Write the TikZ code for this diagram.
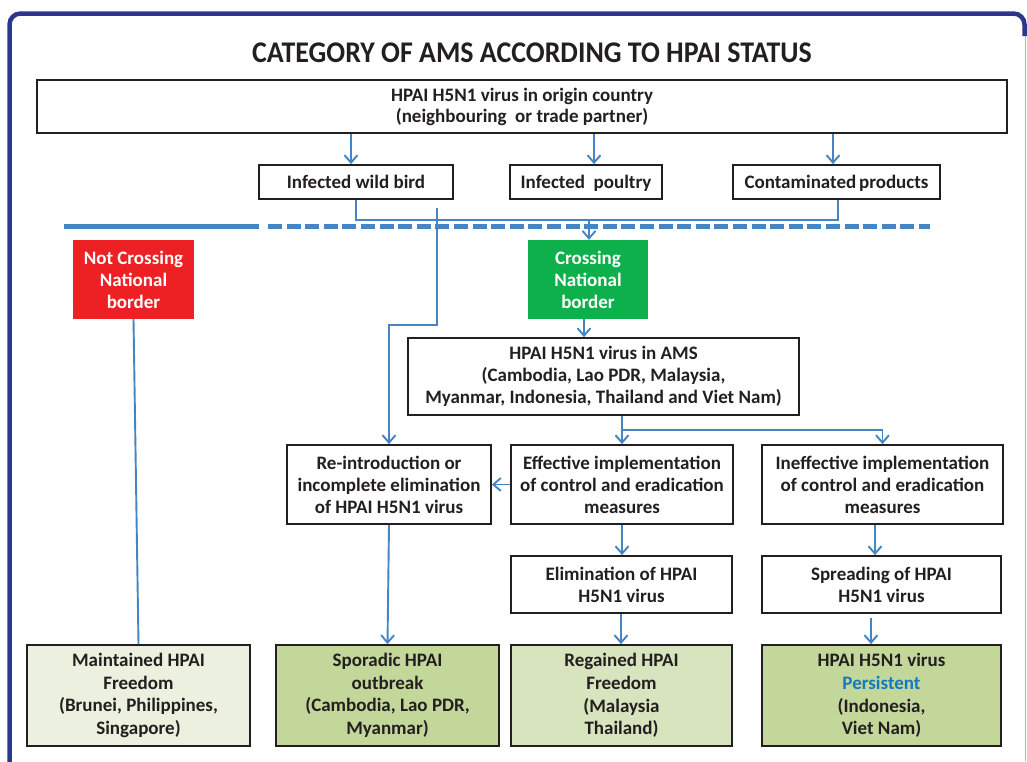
\documentclass[tikz,border=0pt]{standalone}
\usepackage{fontspec}
\setmainfont{Carlito}
\usetikzlibrary{arrows.meta,calc}
\definecolor{navyframe}{RGB}{43,54,140}
\definecolor{framelight}{RGB}{170,178,215}
\definecolor{linkblue}{RGB}{70,133,196}
\definecolor{redbox}{RGB}{237,32,36}
\definecolor{greenbox}{RGB}{13,176,75}
\definecolor{fillA}{RGB}{235,241,222}
\definecolor{fillB}{RGB}{196,215,155}
\definecolor{fillC}{RGB}{215,228,189}
\definecolor{persist}{RGB}{20,120,195}
\definecolor{inktext}{RGB}{35,31,32}
\tikzset{
  boxnode/.style={draw=inktext, line width=1.8pt, fill=white, inner sep=0pt, align=center,
    font=\bfseries\fontsize{19}{22}\selectfont, text=inktext},
  oneline/.style={boxnode, text height=14pt, text depth=1.8pt},
  colbox/.style={fill=#1, draw=none, inner sep=0pt, align=center, text=white,
    font=\bfseries\fontsize{19}{22}\selectfont},
  bigbox/.style={boxnode, font=\bfseries\fontsize{19}{22.6}\selectfont},
  link/.style={draw=linkblue, line width=1.9pt},
  arr/.style={link, -{Straight Barb[length=7.5pt,width=13pt,line width=1.9pt]}},
  divider/.style={draw=linkblue, line width=5pt},
}
\begin{document}
\begin{tikzpicture}[x=1pt,y=-1pt]
\path[use as bounding box] (0,0) rectangle (1027,761);
\clip (0,0) rectangle (1027,761);
\fill[white] (0,0) rectangle (1027,761);
% frame
\draw[framelight, line width=1pt] (1025.5,20) -- (1025.5,761);
\draw[navyframe, line width=4.5pt, rounded corners=11pt] (9.5,790) -- (9.5,13.5) -- (1024.5,13.5) -- (1024.5,36);
% title
\node (title) at (532,53) {\scalebox{0.93}[1]{\bfseries\fontsize{30}{36}\selectfont\color{inktext}CATEGORY OF AMS ACCORDING TO HPAI STATUS}};
% nodes
\node[boxnode, minimum width=970, minimum height=53, font=\bfseries\fontsize{19}{21}\selectfont] (top) at (522,106.5) {HPAI H5N1 virus in origin country\\(neighbouring\ \ or trade partner)};
\node[oneline, minimum width=194, minimum height=34] (wb) at (356,182) {Infected wild bird};
\node[oneline, minimum width=152, minimum height=34] (ip) at (586,182) {Infected\ \ poultry};
\node[oneline, minimum width=207, minimum height=34] (cp) at (836.5,182) {Contaminated\hspace{-1.5pt} products};
\node[colbox=redbox, minimum width=121, minimum height=79] (nc) at (133.5,279.5) {Not Crossing\\National\\border};
\node[colbox=greenbox, minimum width=120, minimum height=79] (cr) at (588,279.5) {Crossing\\National\\border};
\node[boxnode, minimum width=391, minimum height=77] (ams) at (603.5,376.5) {HPAI H5N1 virus in AMS\\(Cambodia, Lao PDR, Malaysia,\\Myanmar, Indonesia, Thailand and Viet Nam)};
\node[boxnode, minimum width=204, minimum height=79] (re) at (389,484.5) {Re-introduction or\\incomplete elimination\\of HPAI H5N1 virus};
\node[boxnode, minimum width=222, minimum height=79] (ef) at (622,484.5) {Effective implementation\\of control and eradication\\measures};
\node[boxnode, minimum width=241, minimum height=79] (in) at (882.5,484.5) {Ineffective implementation\\of control and eradication\\measures};
\node[boxnode, minimum width=221, minimum height=57] (el) at (621.5,584.5) {Elimination of HPAI\\H5N1 virus};
\node[boxnode, minimum width=239, minimum height=57] (sp) at (881.5,584.5) {Spreading of HPAI\\H5N1 virus};
\node[bigbox, fill=fillA, minimum width=223, minimum height=101] (ma) at (138.5,695.5) {Maintained HPAI\\Freedom\\(Brunei, Philippines,\\Singapore)};
\node[bigbox, fill=fillB, minimum width=223, minimum height=101] (so) at (387.5,695.5) {Sporadic HPAI\\outbreak\\(Cambodia, Lao PDR,\\Myanmar)};
\node[bigbox, fill=fillC, minimum width=221, minimum height=101] (rg) at (621.5,695.5) {Regained HPAI\\Freedom\\(Malaysia\\Thailand)};
\node[bigbox, fill=fillB, minimum width=239, minimum height=101] (pe) at (881.5,695.5) {HPAI H5N1 virus\\\textcolor{persist}{Persistent}\\(Indonesia,\\Viet Nam)};
% helper coordinates
\coordinate (jn) at (589,220);
\coordinate (wb2) at (437,208);
\coordinate (bend) at (437,325);
\coordinate (br) at (622,430);
% divider
\draw[divider] (64,226) -- (259,226);
\draw[divider, dash pattern=on 14pt off 4.6pt] (268,226) -- (930,226);
% connectors
\draw[arr] ([xshift=-5pt]wb.north |- top.south) -- ([xshift=-5pt]wb.north);
\draw[arr] ([xshift=8pt]ip.north |- top.south) -- ([xshift=8pt]ip.north);
\draw[arr] ([xshift=-3.5pt]cp.north |- top.south) -- ([xshift=-3.5pt]cp.north);
\draw[link] (wb.south) |- (jn) -| ([xshift=1.5pt]cp.south);
\draw[arr] (jn) -- (jn |- cr.north);
\draw[arr] (wb2) -- (bend) -| (re.north);
\draw[link] (nc.south) -- (ma.north);
\draw[arr] ([xshift=-4pt]cr.south) -- ([xshift=-4pt]cr.south |- ams.north);
\draw[arr] (ams.south -| ef.north) -- (ef.north);
\draw[arr] (br) -| (in.north);
\draw[arr] (ef.west) -- (re.east);
\draw[arr] ([xshift=-7.5pt]in.south) -- ([xshift=-7.5pt]in.south |- sp.north);
\draw[arr] (ef.south) -- (ef.south |- el.north);
\draw[arr] ([xshift=-0.5pt]el.south) -- ([xshift=-0.5pt]rg.north);
\draw[arr] ([xshift=-10.5pt,yshift=-4pt]sp.south) -- ([xshift=-10.5pt]sp.south |- pe.north);
\draw[arr] (re.south) -- (so.north);
\end{tikzpicture}
\end{document}
